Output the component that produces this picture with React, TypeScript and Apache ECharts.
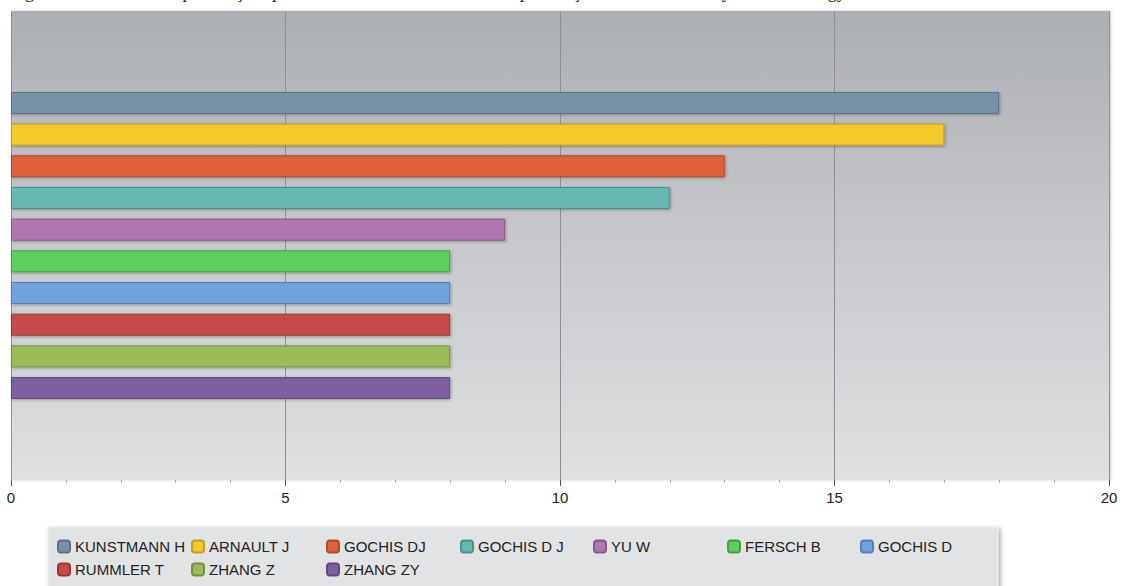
import React, { useEffect, useRef } from "react";
import * as echarts from "echarts";

const authors = [
  "KUNSTMANN H",
  "ARNAULT J",
  "GOCHIS DJ",
  "GOCHIS D J",
  "YU W",
  "FERSCH B",
  "GOCHIS D",
  "RUMMLER T",
  "ZHANG Z",
  "ZHANG ZY",
];
const publications = [18, 17, 13, 12, 9, 8, 8, 8, 8, 8];
const xTicks = [0, 5, 10, 15, 20];
const titleText =
  "Figura 10 – Número de publicações por autores com maior número de publicações no Journal of Hydrometeorology";

const fills = ["#7891a8", "#f4c92c", "#df613b", "#66b8b3", "#b176b0", "#5dcf5d", "#6fa2e0", "#c84a4b", "#9cbc59", "#7e60a0"];
const borders = ["#5c7186", "#c49e1e", "#ad4a2c", "#4b8f8b", "#875a87", "#44a044", "#5380b5", "#973737", "#778f43", "#5f4880"];

const legendCols = [58, 192, 327, 461, 594, 728, 861];
const legendRows = [539, 562];

export default function App() {
  const ref = useRef<HTMLDivElement>(null);
  useEffect(() => {
    if (!ref.current) return;
    const chart = echarts.init(ref.current, undefined, { renderer: "svg" });
    const font = "'Liberation Sans', Arial, sans-serif";
    const series = authors.map((name, i) => ({
      name,
      type: "bar",
      data: [publications[i]],
      barWidth: 22,
      barGap: "44%",
      itemStyle: {
        color: fills[i],
        borderColor: borders[i],
        borderWidth: 1,
        shadowBlur: 3,
        shadowOffsetX: 1,
        shadowOffsetY: 1,
        shadowColor: "rgba(0,0,0,0.3)",
      },
    }));
    const legends = authors.map((name, i) => ({
      data: [name],
      left: legendCols[i % 7] - 1,
      top: legendRows[Math.floor(i / 7)],
      padding: 0,
      icon: "roundRect",
      itemWidth: 12,
      itemHeight: 12,
      selectedMode: false,
      textStyle: { fontSize: 15, fontFamily: font, color: "#222" },
    }));
    chart.setOption({
      animation: false,
      backgroundColor: "#ffffff",
      graphic: [
        {
          type: "text",
          left: 10,
          top: -17,
          style: {
            text: titleText,
            font: "18px 'Liberation Serif', 'Times New Roman', serif",
            fill: "#222",
          },
        },
        {
          type: "rect",
          shape: { x: 48, y: 527, width: 950, height: 80 },
          style: {
            fill: "#e2e3e5",
            stroke: "#eeeff0",
            lineWidth: 1,
            shadowBlur: 4,
            shadowOffsetX: 2,
            shadowOffsetY: 2,
            shadowColor: "rgba(0,0,0,0.35)",
          },
          z: -1,
        },
      ],
      legend: legends,
      grid: {
        left: 11,
        right: 17,
        top: 11,
        height: 469,
        show: true,
        borderWidth: 0,
        backgroundColor: {
          type: "linear",
          x: 0,
          y: 0,
          x2: 0,
          y2: 1,
          colorStops: [
            { offset: 0, color: "#abaeb3" },
            { offset: 0.5, color: "#c8c9cc" },
            { offset: 1, color: "#dfe0e2" },
          ],
        },
        shadowBlur: 3,
        shadowOffsetX: 2,
        shadowColor: "rgba(0,0,0,0.2)",
      },
      xAxis: {
        type: "value",
        min: xTicks[0],
        max: xTicks[xTicks.length - 1],
        interval: 5,
        axisLine: { show: false },
        axisTick: { show: true, length: 6, lineStyle: { color: "#555", width: 1 } },
        minorTick: { show: true, splitNumber: 5, length: 3, lineStyle: { color: "#aaa", width: 1 } },
        splitLine: { show: true, lineStyle: { color: "#8c8e92", width: 1 } },
        axisLabel: { fontSize: 15, fontFamily: font, color: "#222", margin: 10 },
      },
      yAxis: {
        type: "category",
        data: [""],
        axisLine: { show: false },
        axisTick: { show: false },
        axisLabel: { show: false },
      },
      series,
    });
    return () => chart.dispose();
  }, []);
  return (
    <div
      ref={ref}
      style={{ position: "absolute", left: 0, top: 0, width: 1126, height: 586 }}
    />
  );
}
